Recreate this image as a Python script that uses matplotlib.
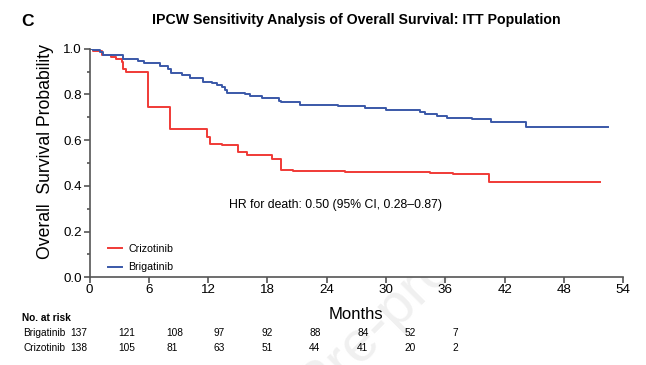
import matplotlib
matplotlib.use("Agg")
import matplotlib.pyplot as plt
from matplotlib.ticker import MultipleLocator, FormatStrFormatter

# ---------------- data ----------------
crizo_t = [0, 0.4, 1.3, 2.2, 2.65, 3.25, 3.4, 3.7, 5.9, 8.1, 11.9, 12.15, 13.4, 15.0,
           15.9, 18.5, 19.35, 20.55, 25.85, 34.4, 36.8, 40.45, 51.6]
crizo_s = [1.0, 0.988, 0.972, 0.963, 0.953, 0.940, 0.912, 0.900, 0.745, 0.650, 0.612, 0.585,
           0.580, 0.550, 0.533, 0.519, 0.468, 0.463, 0.460, 0.456, 0.452, 0.419, 0.419]

brig_t = [0, 0.4, 1.1, 1.4, 3.4, 4.9, 5.5, 7.1, 7.9, 8.2, 9.4, 10.2, 11.5, 12.4, 12.9,
          13.4, 13.7, 13.94, 15.7, 16.2, 17.5, 19.2, 19.4, 21.3, 25.1, 27.9, 30.0, 33.4,
          33.9, 35.2, 36.2, 38.7, 40.6, 44.2, 52.5]
brig_s = [1.0, 0.993, 0.985, 0.972, 0.956, 0.945, 0.936, 0.925, 0.913, 0.893, 0.884, 0.873,
          0.855, 0.848, 0.840, 0.832, 0.821, 0.807, 0.800, 0.791, 0.783, 0.773, 0.766, 0.755,
          0.748, 0.740, 0.732, 0.724, 0.715, 0.707, 0.699, 0.691, 0.681, 0.659, 0.659]

risk_times = [0, 6, 12, 18, 24, 30, 36, 42, 48]
risk_brig = [137, 121, 108, 97, 92, 88, 84, 52, 7]
risk_crizo = [138, 105, 81, 63, 51, 44, 41, 20, 2]

x_ticks = [0, 6, 12, 18, 24, 30, 36, 42, 48, 54]
y_ticks = [0.0, 0.2, 0.4, 0.6, 0.8, 1.0]

title = "IPCW Sensitivity Analysis of Overall Survival: ITT Population"
hr_text = "HR for death: 0.50 (95% CI, 0.28\u20130.87)"

# ---------------- style ----------------
plt.rcParams['font.family'] = ['Liberation Sans', 'DejaVu Sans']
risk_fs = 7.3

RED = '#f03a36'
BLUE = '#3a58a8'
AX = '#555555'

fig = plt.figure(figsize=(6.46, 3.65), dpi=100)
W, H = 646, 365
ax = fig.add_axes([89.5 / W, 1 - 277.3 / H, (623.3 - 89.5) / W, (277.3 - 48.7) / H])

ax.step(crizo_t, crizo_s, where='post', color=RED, lw=1.4, label='Crizotinib')
ax.step(brig_t, brig_s, where='post', color=BLUE, lw=1.4, label='Brigatinib')

ax.set_xlim(0, 54)
ax.set_ylim(0, 1.0)
ax.set_xticks(x_ticks)
ax.set_yticks(y_ticks)
ax.yaxis.set_minor_locator(MultipleLocator(0.1))
ax.yaxis.set_major_formatter(FormatStrFormatter('%.1f'))
for s in ['top', 'right']:
    ax.spines[s].set_visible(False)
for s in ['left', 'bottom']:
    ax.spines[s].set_color(AX)
    ax.spines[s].set_linewidth(1.2)
ax.tick_params(which='major', length=4, width=1.2, color=AX, labelsize=9.6, pad=1.5)
ax.tick_params(which='minor', length=2.5, width=1.2, color=AX)
ax.tick_params(axis='x', which='major', pad=0.5)
ax.set_ylabel("Overall  Survival Probability", fontsize=12.7)
ax.yaxis.set_label_coords(-0.067, 0.55)
ax.set_xlabel("Months", fontsize=12, labelpad=8)

ax.text(14.1, 0.317, hr_text, fontsize=8.8, va='center', ha='left')

leg = ax.legend(loc='lower left', bbox_to_anchor=(0.017, -0.02), frameon=False,
                fontsize=7.7, handlelength=1.25, handletextpad=0.65, labelspacing=0.75)

fig.text(152 / W, 1 - 20 / H, title, fontsize=10.2, fontweight='bold', va='center', ha='left')
fig.text(21 / W, 1 - 21 / H, "C", fontsize=12.5, fontweight='bold', va='center', ha='left')

# watermark
fig.text(480 / W, 1 - 226 / H, "Journal Pre-proof", fontsize=42, color='#f0f0f0',
         rotation=45, rotation_mode='anchor', ha='right', va='center', zorder=-5)

# risk table (left-aligned numbers under a compressed time scale)
rax = fig.add_axes([70.5 / W, 0, (7.96 * 54) / W, 1])
rax.set_xlim(0, 54)
rax.set_ylim(0, H)
rax.axis('off')
fig.text(22 / W, 1 - 318 / H, "No. at risk", fontsize=risk_fs, fontweight='bold',
         va='center', ha='left')
fig.text(23 / W, 1 - 333 / H, "Brigatinib", fontsize=risk_fs, va='center', ha='left')
fig.text(23 / W, 1 - 348 / H, "Crizotinib", fontsize=risk_fs, va='center', ha='left')
for t, b, c in zip(risk_times, risk_brig, risk_crizo):
    rax.text(t, H - 333, str(b), fontsize=risk_fs, ha='left', va='center')
    rax.text(t, H - 348, str(c), fontsize=risk_fs, ha='left', va='center')

fig.savefig("out.png", dpi=100)
